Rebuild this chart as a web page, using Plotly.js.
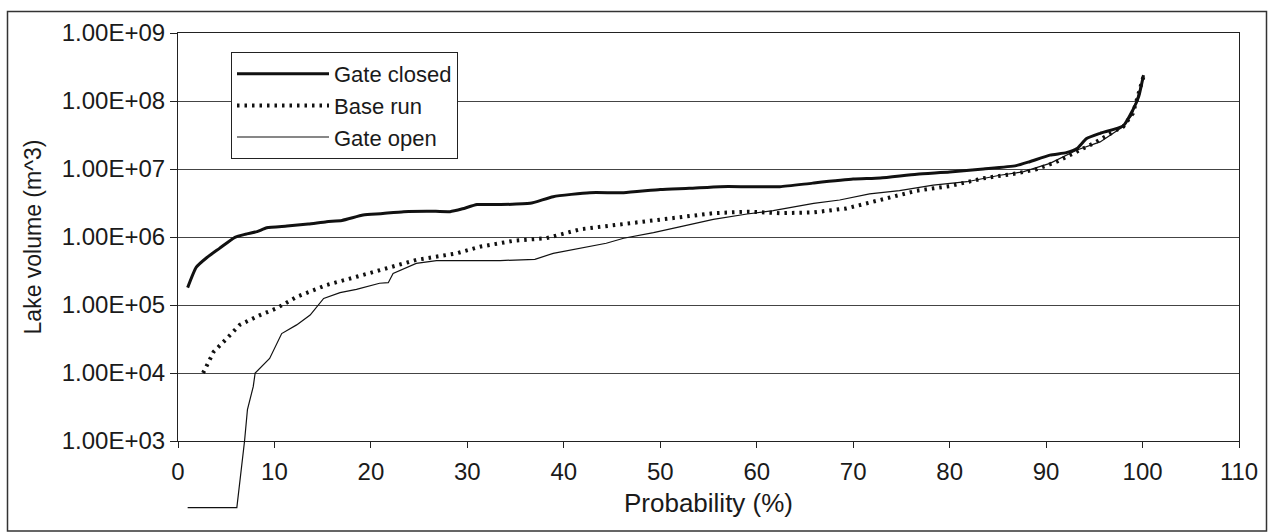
<!DOCTYPE html>
<html>
<head>
<meta charset="utf-8">
<script src="https://cdn.plot.ly/plotly-3.0.1.min.js"></script>
<style>
  html, body { margin: 0; padding: 0; background: #fff; }
  #chart { width: 1270px; height: 532px; }
</style>
</head>
<body>
<div id="chart"></div>
<script>
// ---- Data ----
const closedX = [1, 1.9, 3, 4.3, 5.9, 7, 8.2, 9.2, 11.3, 13.5, 15.4, 17, 19.2, 21, 23.4, 26, 28.2, 29.5, 31, 33.4, 36.5, 38.9, 42.7, 46.2, 50, 53, 56.2, 59, 62.4, 65.8, 70, 72.8, 76.6, 80, 83.5, 86.9, 88.3, 90.4, 92.1, 93.2, 94.2, 95.6, 98, 99, 99.6, 100.1];
const closedY = [1.8e5, 3.6e5, 5.0e5, 6.8e5, 9.9e5, 1.1e6, 1.2e6, 1.37e6, 1.45e6, 1.55e6, 1.68e6, 1.75e6, 2.1e6, 2.2e6, 2.36e6, 2.4e6, 2.36e6, 2.6e6, 3.0e6, 3.0e6, 3.13e6, 3.92e6, 4.49e6, 4.49e6, 5.0e6, 5.2e6, 5.5e6, 5.5e6, 5.5e6, 6.2e6, 7.1e6, 7.4e6, 8.4e6, 9.0e6, 1.0e7, 1.12e7, 1.28e7, 1.6e7, 1.74e7, 2.0e7, 2.8e7, 3.35e7, 4.3e7, 7.4e7, 1.16e8, 2.4e8];

const baseX = [2.6, 3.7, 4.9, 6.4, 8.5, 10.2, 12.3, 15.4, 18.5, 21.6, 24.7, 28.9, 31.3, 34.8, 38.2, 41.7, 45.1, 48.6, 52, 55.5, 59, 62.4, 65.9, 69.3, 72.8, 76.6, 80, 83.5, 86.9, 89, 91.1, 93.2, 95.2, 97.3, 98, 99, 99.7, 100.1];
const baseY = [1.0e4, 2.06e4, 3.05e4, 5.1e4, 7.1e4, 8.9e4, 1.32e5, 1.97e5, 2.6e5, 3.5e5, 4.6e5, 5.75e5, 7.2e5, 8.8e5, 9.6e5, 1.3e6, 1.5e6, 1.68e6, 1.95e6, 2.24e6, 2.36e6, 2.24e6, 2.3e6, 2.63e6, 3.5e6, 4.8e6, 5.6e6, 7.3e6, 8.6e6, 9.9e6, 1.28e7, 1.8e7, 2.5e7, 3.75e7, 4.2e7, 6.6e7, 1.45e8, 2.3e8];

const openX = [1, 6.1, 6.9, 7.2, 7.8, 8.0, 9.5, 10.75, 12.3, 13.7, 15.1, 16.8, 18.5, 20.9, 21.8, 22.3, 24.7, 26.8, 33.4, 37.0, 38.9, 42.7, 44.4, 46.2, 49.3, 52, 53.4, 55.5, 59, 61.7, 65.9, 68.6, 71.7, 74.8, 78.3, 81.8, 85.2, 87.6, 90.4, 93.2, 95.6, 98, 98.9, 99.7, 100.1];
const openY = [1.05e2, 1.05e2, 1e3, 2.9e3, 6.3e3, 1e4, 1.64e4, 3.8e4, 5.1e4, 7.1e4, 1.25e5, 1.52e5, 1.7e5, 2.09e5, 2.13e5, 2.92e5, 4.1e5, 4.5e5, 4.5e5, 4.7e5, 5.75e5, 7.4e5, 8.1e5, 9.6e5, 1.16e6, 1.41e6, 1.55e6, 1.82e6, 2.18e6, 2.44e6, 3.13e6, 3.5e6, 4.3e6, 4.8e6, 5.8e6, 6.5e6, 8.1e6, 9.1e6, 1.21e7, 1.9e7, 2.5e7, 4.2e7, 6.2e7, 1.45e8, 2.3e8];

const seriesNames = ['Gate closed', 'Base run', 'Gate open'];
const yTickVals = [1e3, 1e4, 1e5, 1e6, 1e7, 1e8, 1e9];
const yTickText = ['1.00E+03', '1.00E+04', '1.00E+05', '1.00E+06', '1.00E+07', '1.00E+08', '1.00E+09'];
const xTickVals = [0, 10, 20, 30, 40, 50, 60, 70, 80, 90, 100, 110];
const xTitle = 'Probability (%)';
const yTitle = 'Lake volume (m^3)';

const FONT = 'Liberation Sans, Arial, sans-serif';

const traces = [
  { x: closedX, y: closedY, name: seriesNames[0], type: 'scatter', mode: 'lines',
    xaxis: 'x', yaxis: 'y', line: { color: '#111', width: 3, shape: 'spline', smoothing: 0.5 } },
  { x: baseX, y: baseY, name: seriesNames[1], type: 'scatter', mode: 'lines',
    xaxis: 'x', yaxis: 'y', line: { color: '#111', width: 4, dash: '2.5px,5px' } },
  { x: openX, y: openY, name: seriesNames[2], type: 'scatter', mode: 'lines',
    xaxis: 'x', yaxis: 'y2', line: { color: '#111', width: 1.2 } }
];

const mainDomainBottom = 68 / 476;

const layout = {
  width: 1270, height: 532,
  margin: { l: 178, r: 31, t: 33, b: 23 },
  paper_bgcolor: '#fff', plot_bgcolor: 'rgba(0,0,0,0)',
  font: { family: FONT, size: 23, color: '#1a1a1a' },
  showlegend: true,
  legend: {
    x: (231 - 178) / 1061, y: (509 - 52) / 476, xanchor: 'left', yanchor: 'top',
    bgcolor: '#fff', bordercolor: '#222', borderwidth: 1,
    font: { family: FONT, size: 22, color: '#1a1a1a' },
    itemwidth: 92, tracegroupgap: 0
  },
  xaxis: {
    anchor: 'y', domain: [0, 1], range: [0, 110], tickvals: xTickVals,
    showgrid: false, zeroline: false,
    showline: true, linecolor: '#222', linewidth: 1, mirror: true,
    ticks: 'outside', ticklen: 6, tickcolor: '#222',
    ticklabelstandoff: 3,
    tickfont: { family: FONT, size: 24, color: '#1a1a1a' },
    title: { text: xTitle, font: { family: FONT, size: 26, color: '#1a1a1a' }, standoff: 10 }
  },
  yaxis: {
    type: 'log', domain: [mainDomainBottom, 1], range: [3, 9],
    tickvals: yTickVals, ticktext: yTickText,
    showgrid: true, gridcolor: '#444', gridwidth: 1, zeroline: false,
    showline: true, linecolor: '#222', linewidth: 1, mirror: true,
    ticks: 'outside', ticklen: 7, tickcolor: '#222',
    tickfont: { family: FONT, size: 24, color: '#1a1a1a' },
    title: { text: yTitle, font: { family: FONT, size: 23, color: '#1a1a1a' }, standoff: 13 }
  },
  yaxis2: {
    type: 'log', domain: [0, 1], range: [2, 9], autorange: false,
    visible: false, anchor: 'x'
  },
  shapes: [
    { type: 'rect', xref: 'paper', yref: 'paper',
      x0: (7.5 - 178) / 1061, x1: (1266.5 - 178) / 1061,
      y0: (509 - 531) / 476, y1: (509 - 11.5) / 476,
      line: { color: '#333', width: 1.5 }, fillcolor: 'rgba(0,0,0,0)', layer: 'below' }
  ]
};

Plotly.newPlot('chart', traces, layout, { displayModeBar: false, staticPlot: true });
</script>
</body>
</html>
